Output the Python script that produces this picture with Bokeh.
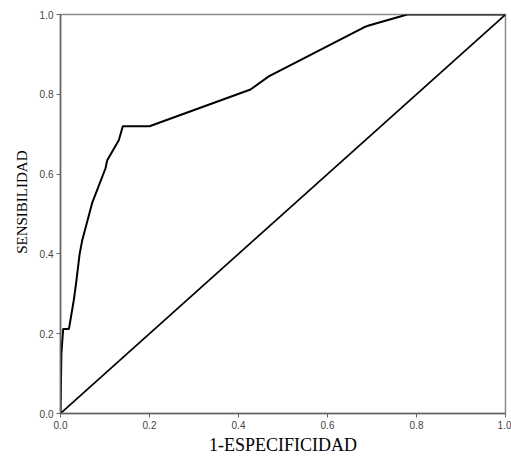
from bokeh.plotting import figure
from bokeh.models import Range1d, FixedTicker, NumeralTickFormatter, ColumnDataSource, Title
from bokeh.embed import file_html
from bokeh.resources import INLINE

# ROC curve points
fpr = [0.0, 0.002, 0.006, 0.019, 0.030, 0.036, 0.043, 0.049, 0.071, 0.101, 0.105,
       0.131, 0.140, 0.200, 0.427, 0.468, 0.682, 0.689, 0.779, 1.0]
tpr = [0.0, 0.150, 0.212, 0.212, 0.285, 0.335, 0.400, 0.435, 0.527, 0.614, 0.635,
       0.685, 0.720, 0.720, 0.812, 0.845, 0.968, 0.971, 1.0, 1.0]
ref_x = [0.0, 1.0]
ref_y = [0.0, 1.0]
ticks = [0.0, 0.2, 0.4, 0.6, 0.8, 1.0]

p = figure(width=511, height=457, output_backend="svg", toolbar_location=None,
           x_range=Range1d(0, 1), y_range=Range1d(0, 1),
           min_border_left=60, min_border_right=6, min_border_top=14, min_border_bottom=43)
p.background_fill_color = "white"
p.border_fill_color = "white"
p.grid.visible = False
p.outline_line_color = "#8a8a8a"
p.outline_line_width = 1.5

src = ColumnDataSource(dict(x=fpr, y=tpr))
p.line("x", "y", source=src, line_color="black", line_width=2)
p.line(ref_x, ref_y, line_color="black", line_width=1.6)

for ax in (p.xaxis[0], p.yaxis[0]):
    ax.ticker = FixedTicker(ticks=ticks)
    ax.formatter = NumeralTickFormatter(format="0.0")
    ax.minor_tick_line_color = None
    ax.major_tick_out = 4
    ax.major_tick_in = 0
    ax.axis_line_color = "#666666"
    ax.axis_line_width = 1.5
    ax.major_tick_line_color = "#666666"
    ax.major_label_text_font = "Liberation Sans"
    ax.major_label_text_font_size = "10px"
    ax.major_label_text_color = "#444444"
    ax.axis_label_text_font = "Liberation Serif"
    ax.axis_label_text_font_style = "normal"
    ax.axis_label_text_color = "black"

p.xaxis.axis_label = "1-ESPECIFICIDAD"
p.xaxis.axis_label_text_font_size = "18px"
p.xaxis.major_label_standoff = 3
p.yaxis.major_label_standoff = 3
p.xaxis.axis_label_standoff = 3

ylab = Title(text="SENSIBILIDAD", align="right", offset=136, standoff=14,
             text_font="Liberation Serif", text_font_size="15px",
             text_font_style="normal", text_color="black")
p.add_layout(ylab, "left")

open("out.html", "w").write(file_html(p, INLINE))
